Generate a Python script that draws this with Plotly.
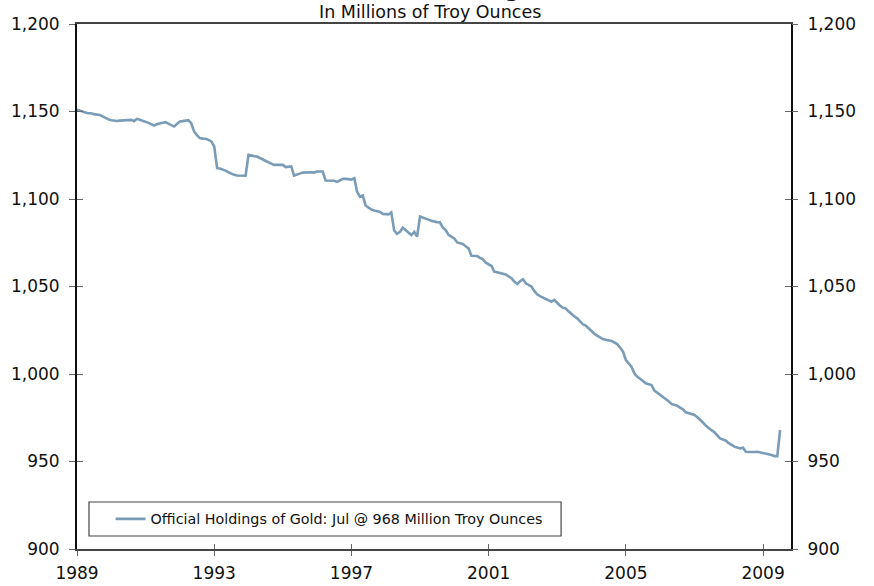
import pandas as pd
import plotly.graph_objects as go

# Official gold holdings, monthly, Jan 1989 - Jul 2009 (millions of troy ounces)
start_month = "1989-01-01"
holdings = [
    # 1989
    1151.0, 1150.6, 1150.0, 1149.4, 1149.0, 1149.0, 1148.5, 1148.3, 1148.0, 1147.2, 1146.2, 1145.5,
    # 1990
    1145.0, 1144.7, 1144.6, 1144.8, 1145.0, 1145.1, 1145.2, 1145.2, 1144.5, 1145.8, 1145.3, 1144.8,
    # 1991
    1144.1, 1143.5, 1142.8, 1142.0, 1142.7, 1143.3, 1143.6, 1143.9, 1143.2, 1142.3, 1141.4, 1142.8,
    # 1992
    1144.3, 1144.5, 1144.7, 1145.0, 1143.3, 1138.6, 1136.5, 1134.8, 1134.5, 1134.4, 1133.8, 1132.9,
    # 1993
    1130.0, 1117.6, 1117.4, 1117.0, 1116.2, 1115.3, 1114.5, 1113.8, 1113.4, 1113.3, 1113.2, 1113.3,
    # 1994
    1125.2, 1124.6, 1124.5, 1124.3, 1123.4, 1122.4, 1121.7, 1121.0, 1120.2, 1119.5, 1119.5, 1119.6,
    # 1995
    1119.5, 1118.2, 1118.4, 1118.6, 1113.4, 1113.8, 1114.5, 1115.1, 1115.3, 1115.5, 1115.3, 1115.1,
    # 1996
    1115.7, 1115.7, 1115.7, 1110.6, 1110.6, 1110.5, 1110.4, 1109.8, 1110.6, 1111.5, 1111.5, 1111.5,
    # 1997
    1111.1, 1111.9, 1104.3, 1101.4, 1102.0, 1096.3, 1095.0, 1094.0, 1093.4, 1093.1, 1092.6, 1091.5,
    # 1998
    1091.5, 1091.2, 1092.4, 1082.0, 1080.1, 1081.2, 1083.6, 1082.0, 1080.5, 1079.4, 1081.2, 1078.5,
    # 1999
    1090.0, 1089.5, 1088.6, 1088.2, 1087.6, 1087.0, 1086.8, 1086.7, 1083.6, 1082.3, 1079.5, 1078.5,
    # 2000
    1077.5, 1075.2, 1074.8, 1074.3, 1073.0, 1071.8, 1067.6, 1067.5, 1067.4, 1066.4, 1065.5, 1063.6,
    # 2001
    1062.6, 1061.7, 1058.5, 1058.0, 1057.5, 1057.2, 1056.9, 1055.8, 1054.7, 1052.8, 1051.4, 1053.0,
    # 2002
    1054.1, 1051.8, 1050.8, 1050.0, 1047.5, 1045.5, 1044.5, 1043.6, 1043.0, 1042.3, 1041.3, 1042.3,
    # 2003
    1040.5, 1039.0, 1037.9, 1037.5, 1035.8, 1034.1, 1033.0, 1031.8, 1030.0, 1028.4, 1027.6, 1026.0,
    # 2004
    1024.2, 1023.0, 1021.9, 1021.0, 1020.0, 1019.6, 1019.3, 1018.9, 1018.0, 1017.1, 1015.0, 1012.8,
    # 2005
    1008.0, 1006.0, 1004.2, 1000.4, 998.5, 997.3, 996.0, 994.7, 994.2, 993.7, 990.5, 989.3,
    # 2006
    988.0, 987.0, 986.1, 984.5, 982.9, 982.4, 981.9, 980.8, 979.8, 978.1, 977.6, 977.1,
    # 2007
    976.6, 975.3, 974.1, 972.3, 970.5, 969.0, 967.9, 966.7, 965.0, 963.2, 962.6, 961.9,
    # 2008
    960.5, 959.4, 958.5, 958.0, 957.5, 957.9, 955.6, 955.4, 955.2, 955.4, 955.6, 955.3,
    # 2009
    955.0, 954.7, 954.2, 953.7, 953.1, 953.1, 968.0,
]
months = pd.date_range(start_month, periods=len(holdings), freq="MS")

year_ticks = ["1989-01-01", "1993-01-01", "1997-01-01", "2001-01-01", "2005-01-01", "2009-01-01"]
year_labels = ["1989", "1993", "1997", "2001", "2005", "2009"]
y_ticks = [900, 950, 1000, 1050, 1100, 1150, 1200]
y_labels = [f"{v:,}" for v in y_ticks]

series_name = "Official Holdings of Gold: Jul @ 968 Million Troy Ounces"
title_text = "Official Holdings of Gold"
subtitle_text = "In Millions of Troy Ounces"

LINE = "#7b9cb6"
FONT = "DejaVu Sans"
TICK_C = "#666666"
X_RANGE = ["1989-01-01", "2009-10-25"]
Y_RANGE = [900, 1200]

fig = go.Figure()

# Helper traces so that the extra (tick-only) axes get drawn
for xa, ya in [("x2", "y"), ("x", "y2"), ("x", "y3"), ("x", "y4")]:
    fig.add_trace(go.Scatter(x=months, y=holdings, xaxis=xa, yaxis=ya, mode="lines",
                             line=dict(width=0, color=LINE), opacity=0,
                             showlegend=False, hoverinfo="skip"))

fig.add_trace(go.Scatter(x=months, y=holdings, mode="lines", name=series_name,
                         line=dict(color=LINE, width=2.6)))

common_y = dict(range=Y_RANGE, tickvals=y_ticks, ticktext=y_labels, fixedrange=True,
                showgrid=False, zeroline=False, tickcolor=TICK_C, ticklen=6, tickwidth=1.2,
                automargin=False)

fig.update_layout(
    width=874, height=586,
    margin=dict(l=77, r=83, t=24, b=37, autoexpand=False),
    paper_bgcolor="white", plot_bgcolor="white",
    font=dict(family=FONT, size=17, color="#111111"),
    showlegend=True,
    legend=dict(x=0.047, y=0.057, xanchor="left", yanchor="middle",
                bgcolor="rgba(0,0,0,0)", borderwidth=0,
                font=dict(family=FONT, size=14.3, color="#111111"),
                itemwidth=30),
    xaxis=dict(type="date", range=X_RANGE, tickvals=year_ticks, ticktext=year_labels,
               showgrid=False, zeroline=False, ticks="outside", ticklen=5, tickwidth=1.2,
               tickcolor=TICK_C, showline=True, linecolor="#444444", linewidth=2,
               mirror=True, ticklabelstandoff=3, automargin=False),
    xaxis2=dict(type="date", range=X_RANGE, tickvals=year_ticks, ticktext=year_labels,
                overlaying="x", side="bottom", anchor="y", showticklabels=False,
                showgrid=False, zeroline=False, ticks="inside", ticklen=5, tickwidth=1.2,
                tickcolor=TICK_C, showline=False, automargin=False),
    yaxis=dict(**common_y, ticks="outside", showline=True, linecolor="#111111",
               linewidth=2, mirror=True, ticklabelstandoff=6),
    yaxis2=dict(**common_y, overlaying="y", side="right", anchor="x", ticks="outside",
                showline=False, ticklabelstandoff=6),
    yaxis3=dict(**common_y, overlaying="y", side="left", anchor="x", ticks="inside",
                showticklabels=False, showline=False),
    yaxis4=dict(**common_y, overlaying="y", side="right", anchor="x", ticks="inside",
                showticklabels=False, showline=False),
    shapes=[dict(type="rect", xref="paper", yref="paper",
                 x0=0.0168, x1=0.678, y0=0.0248, y1=0.0895,
                 line=dict(color="#444444", width=1.2), fillcolor="rgba(0,0,0,0)")],
    annotations=[
        dict(text=f"<b>{title_text}</b>", xref="paper", yref="paper", x=0.568, y=1 + 20 / 525,
             xanchor="center", yanchor="bottom", showarrow=False,
             font=dict(family=FONT, size=20, color="#111111")),
        dict(text=subtitle_text, xref="paper", yref="paper", x=0.494, y=1 + 12 / 525,
             xanchor="center", yanchor="middle", showarrow=False,
             font=dict(family=FONT, size=17.5, color="#111111")),
    ],
)

fig.write_html("out.html")
